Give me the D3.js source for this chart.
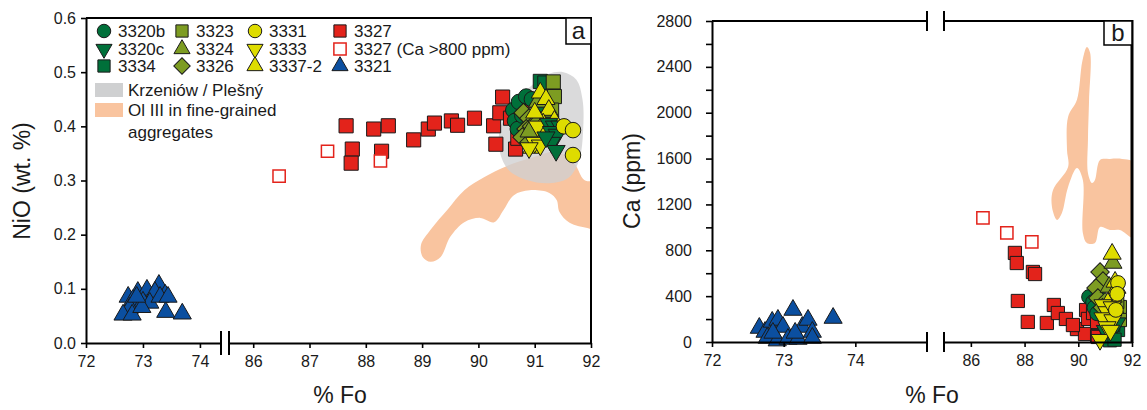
<!DOCTYPE html>
<html>
<head>
<meta charset="utf-8">
<script src="https://cdnjs.cloudflare.com/ajax/libs/d3/7.8.5/d3.min.js"></script>
<style>
  body { margin: 0; background: #fff; }
  svg { font-family: "Liberation Sans", Arial, sans-serif; }
  .tick text { font-size: 16px; fill: #1a1a1a; }
  .tick line { stroke: #000; stroke-width: 1.6; }
  .legend text { font-size: 17px; fill: #1a1a1a; }
  .title { font-size: 23px; fill: #1a1a1a; }
</style>
</head>
<body>
<div id="chart"></div>
<script>
// ---- data: [Fo, NiO wt.%] (panel a) ----
var a3321 = [[72.74,0.085],[72.91,0.094],[73.07,0.098],[73.28,0.107],[73.21,0.094],[73.39,0.089],[72.82,0.079],[73.0,0.076],[73.12,0.074],[72.77,0.065],[72.65,0.052],[72.81,0.052],[72.98,0.066],[73.40,0.057],[73.69,0.054],[72.89,0.085],[73.30,0.085],[73.44,0.085]];
var a3327 = [[87.65,0.401],[87.76,0.358],[87.74,0.332],[88.14,0.395],[88.40,0.401],[88.28,0.354],[88.85,0.375],[89.11,0.395],[89.22,0.406],[89.52,0.410],[89.63,0.402],[89.93,0.415],[90.27,0.401],[90.31,0.367],[90.43,0.454],[90.38,0.425],[90.66,0.358],[90.88,0.447],[91.25,0.436],[91.23,0.421],[91.20,0.402],[90.75,0.393],[90.57,0.415],[90.7,0.378]];
var a3327hi = [[86.46,0.308],[87.32,0.354],[88.26,0.336]];
var a3320b = [[90.62,0.43],[90.65,0.41],[90.72,0.445],[90.85,0.455],[90.95,0.45],[90.7,0.395],[90.78,0.42]];
var a3334 = [[91.1,0.483],[91.18,0.48],[91.2,0.455],[91.25,0.43],[91.3,0.405],[91.15,0.44]];
var a3323 = [[91.33,0.482],[91.35,0.455],[91.3,0.43]];
var a3326 = [[90.8,0.425],[90.9,0.415],[90.85,0.395],[90.95,0.40],[90.78,0.38],[91.0,0.385],[91.08,0.41],[90.9,0.37]];
var a3324 = [[91.05,0.445],[91.3,0.395],[90.9,0.39]];
var a3337 = [[91.1,0.462],[91.2,0.45],[91.25,0.43],[91.15,0.405],[91.35,0.41],[91.0,0.425],[90.95,0.36]];
var a3333 = [[91.0,0.37],[91.1,0.365],[91.2,0.39],[91.05,0.40],[91.4,0.395],[90.9,0.36]];
var a3320c = [[91.25,0.405],[91.35,0.40],[91.45,0.40],[91.3,0.39],[91.4,0.385],[91.3,0.37],[91.38,0.355],[91.2,0.38]];
var a3331 = [[91.52,0.40],[91.68,0.393],[91.68,0.347]];
// outlines of reference fields, [Fo, NiO]
var aKrzeniow = [[91.51,0.500],[91.74,0.486],[91.85,0.449],[91.86,0.393],[91.79,0.338],[91.60,0.305],[91.26,0.295],[90.86,0.301],[90.54,0.319],[90.38,0.353],[90.38,0.393],[90.60,0.439],[90.95,0.476],[91.25,0.497]];
var aOlIII = [[88.98,0.181],[89.15,0.209],[89.45,0.246],[89.75,0.282],[90.10,0.306],[90.51,0.327],[90.95,0.342],[91.39,0.353],[91.70,0.332],[91.88,0.301],[92.1,0.295],[92.1,0.209],[91.95,0.212],[91.62,0.222],[91.44,0.242],[91.39,0.264],[91.26,0.277],[90.91,0.282],[90.63,0.273],[90.45,0.246],[90.28,0.223],[90.03,0.231],[89.75,0.223],[89.50,0.196],[89.33,0.159],[89.15,0.150],[89.01,0.159]];

// ---- data: [Fo, Ca ppm] (panel b) ----
var b3321 = [[72.66,122],[72.74,87],[72.84,175],[72.92,192],[72.99,131],[73.13,279],[73.26,131],[73.34,192],[73.40,87],[73.69,209],[72.77,35],[72.91,12],[73.06,26],[73.20,26],[73.40,35],[72.85,79],[73.16,79]];
var b3327 = [[87.64,777],[87.71,689],[88.31,611],[88.39,593],[87.75,358],[88.12,175],[88.83,166],[89.09,323],[89.24,253],[89.54,201],[89.95,113],[90.29,279],[90.36,201],[90.25,70],[90.70,52],[89.80,148],[90.55,253],[90.70,175],[90.73,44]];
var b3327hi = [[86.45,1082],[87.34,951],[88.27,873]];
var b3320b = [[90.40,393],[90.55,349],[90.6,300],[90.7,250],[90.8,380]];
var b3334 = [[91.07,79],[91.29,44],[91.18,15],[91.48,105],[91.44,279],[91.3,150],[91.2,250],[91.35,20]];
var b3323 = [[91.55,305],[91.55,192],[91.45,350]];
var b3326 = [[90.81,611],[90.92,532],[90.66,471],[90.73,384],[91.0,350],[90.9,300]];
var b3324 = [[91.29,689],[91.15,480],[91.35,300]];
var b3337 = [[91.26,768],[91.37,524],[91.3,393],[91.44,471],[91.1,340]];
var b3333 = [[90.92,323],[91.07,262],[91.26,305],[90.92,209],[91.29,192],[91.07,131],[90.81,20],[91.2,100]];
var b3320c = [[91.44,166],[91.1,150],[91.2,200],[91.0,100]];
var b3331 = [[91.48,515],[91.45,420],[91.4,280]];
var bOlIII = [[90.32,2574],[90.44,2522],[90.40,2100],[90.36,1763],[90.36,1475],[90.51,1387],[90.62,1414],[90.81,1588],[91.18,1597],[91.63,1597],[92.1,1562],[92.1,908],[91.55,977],[91.18,977],[90.81,1003],[90.62,864],[90.32,864],[90.17,951],[90.17,1414],[89.95,1518],[89.62,1353],[89.39,1126],[89.21,1065],[89.02,1178],[89.06,1326],[89.62,1527],[89.58,1675],[89.62,1963],[89.95,2112],[90.15,2450]];

// tick labels
var aFoTicksL = [72, 73, 74];
var aFoTicksR = [86, 87, 88, 89, 90, 91, 92];
var aNiOTicks = [0, 0.1, 0.2, 0.3, 0.4, 0.5, 0.6];
var bFoTicksL = [72, 73, 74];
var bFoTicksR = [86, 88, 90, 92];
var bCaTicks = [0,200,400,600,800,1000,1200,1400,1600,1800,2000,2200,2400,2600,2800];

(function (d3) {
  'use strict';

  var green = '#00703a', olive = '#7d9c22', yellow = '#dedc00',
      red = '#e3231b', blue = '#0b4fa0', peach = '#f9c49f', grey = '#cfd0d1';

  var svg = d3.select('#chart').append('svg')
    .attr('width', 1147).attr('height', 410);

  // panel a scales (x axis broken between 74 and 86)
  var xaL = d3.scaleLinear().domain([72, 74.37]).range([86, 221]);
  var xaR = d3.scaleLinear().domain([85.57, 92]).range([229, 591]);
  var ya = d3.scaleLinear().domain([0, 0.6]).range([343, 18]);
  // panel b scales
  var xbL = d3.scaleLinear().domain([72, 75]).range([712, 927]);
  var xbR = d3.scaleLinear().domain([85, 92]).range([944, 1132]);
  var yb = d3.scaleLinear().domain([0, 2800]).range([342, 21]);

  function fxA(v) { return v < 80 ? xaL(v) : xaR(v); }
  function fxB(v) { return v < 80 ? xbL(v) : xbR(v); }

  var shapes = {
    circle: { type: d3.symbolCircle, rot: 0, k: 0.95 },
    square: { type: d3.symbolSquare, rot: 0, k: 1 },
    tri: { type: d3.symbolTriangle, rot: 0, k: 0.75 },
    itri: { type: d3.symbolTriangle, rot: 180, k: 0.75 },
    diamond: { type: d3.symbolSquare, rot: 45, k: 0.9 }
  };

  function points(g, data, fx, fy, shape, fill, size, stroke) {
    var s = shapes[shape];
    g.append('g').selectAll('path')
      .data(data)
      .enter()
      .append('path')
      .attr('d', d3.symbol().type(s.type).size(size * s.k))
      .attr('transform', function (d) {
        return 'translate(' + fx(d[0]) + ',' + fy(d[1]) + ') rotate(' + s.rot + ')';
      })
      .attr('fill', fill)
      .attr('stroke', stroke || '#1a1a1a')
      .attr('stroke-width', stroke ? 1.5 : 1);
  }

  var region = d3.line().curve(d3.curveCatmullRomClosed.alpha(0.5));
  var fmt = d3.format('d');

  // clip paths
  var defs = svg.append('defs');
  defs.append('clipPath').attr('id', 'clipA').append('rect')
    .attr('x', 86).attr('y', 18).attr('width', 505).attr('height', 325);
  defs.append('clipPath').attr('id', 'clipB').append('rect')
    .attr('x', 712).attr('y', 21).attr('width', 420).attr('height', 321);

  // ================= panel a =================
  var ga = svg.append('g');
  var fieldsA = ga.append('g').attr('clip-path', 'url(#clipA)');
  fieldsA.append('path')
    .attr('d', region(aOlIII.map(function (d) { return [fxA(d[0]), ya(d[1])]; })))
    .attr('fill', peach);
  fieldsA.append('path')
    .attr('d', region(aKrzeniow.map(function (d) { return [fxA(d[0]), ya(d[1])]; })))
    .attr('fill', grey).attr('opacity', 0.78);

  points(ga, a3321, fxA, ya, 'tri', blue, 190);
  points(ga, a3327, fxA, ya, 'square', red, 200);
  points(ga, a3327hi, fxA, ya, 'square', '#fff', 150, red);
  points(ga, a3320b, fxA, ya, 'circle', green, 200);
  points(ga, a3334, fxA, ya, 'square', green, 200);
  points(ga, a3323, fxA, ya, 'square', olive, 200);
  points(ga, a3326, fxA, ya, 'diamond', olive, 200);
  points(ga, a3324, fxA, ya, 'tri', olive, 190);
  points(ga, a3337, fxA, ya, 'tri', yellow, 190);
  points(ga, a3333, fxA, ya, 'itri', yellow, 190);
  points(ga, a3320c, fxA, ya, 'itri', green, 190);
  points(ga, a3331, fxA, ya, 'circle', yellow, 200);

  // axes a
  ga.append('g').attr('transform', 'translate(0,343)')
    .call(d3.axisBottom(xaL).tickValues(aFoTicksL).tickFormat(fmt).tickSize(5).tickSizeOuter(0).tickPadding(8));
  ga.append('g').attr('transform', 'translate(0,343)')
    .call(d3.axisBottom(xaR).tickValues(aFoTicksR).tickFormat(fmt).tickSize(5).tickSizeOuter(0).tickPadding(8));
  ga.append('g').attr('transform', 'translate(86,0)')
    .call(d3.axisLeft(ya).tickValues(aNiOTicks).tickFormat(d3.format('.1f')).tickSize(5).tickSizeOuter(0).tickPadding(5));
  ga.selectAll('.domain').attr('stroke', '#000').attr('stroke-width', 2);

  // frame and break marks
  ga.append('path').attr('d', 'M86,18H591V343').attr('fill', 'none').attr('stroke', '#000').attr('stroke-width', 2);
  ga.append('path').attr('d', 'M221,331V355M229,331V355').attr('stroke', '#000').attr('stroke-width', 2);

  ga.append('rect').attr('x', 566).attr('y', 18).attr('width', 25).attr('height', 26)
    .attr('fill', '#fff').attr('stroke', '#000').attr('stroke-width', 1.5);
  ga.append('text').attr('x', 578.5).attr('y', 39).attr('text-anchor', 'middle')
    .attr('class', 'title').style('font-size', '24px').text('a');

  ga.append('text').attr('class', 'title')
    .attr('transform', 'translate(30,181) rotate(-90)')
    .attr('text-anchor', 'middle').text('NiO (wt. %)');
  ga.append('text').attr('class', 'title')
    .attr('x', 340).attr('y', 403).attr('text-anchor', 'middle').text('% Fo');

  // legend
  var legendItems = [
    { x: 104, y: 31, shape: 'circle', fill: green, label: '3320b' },
    { x: 104, y: 49, shape: 'itri', fill: green, label: '3320c' },
    { x: 104, y: 66, shape: 'square', fill: green, label: '3334' },
    { x: 182, y: 31, shape: 'square', fill: olive, label: '3323' },
    { x: 182, y: 49, shape: 'tri', fill: olive, label: '3324' },
    { x: 182, y: 66, shape: 'diamond', fill: olive, label: '3326' },
    { x: 255, y: 31, shape: 'circle', fill: yellow, label: '3331' },
    { x: 255, y: 49, shape: 'itri', fill: yellow, label: '3333' },
    { x: 255, y: 66, shape: 'tri', fill: yellow, label: '3337-2' },
    { x: 340, y: 31, shape: 'square', fill: red, label: '3327' },
    { x: 340, y: 49, shape: 'square', fill: '#fff', stroke: red, label: '3327 (Ca >800 ppm)' },
    { x: 340, y: 66, shape: 'tri', fill: blue, label: '3321' }
  ];
  var legend = ga.append('g').attr('class', 'legend');
  legendItems.forEach(function (it) {
    var s = shapes[it.shape];
    legend.append('path')
      .attr('d', d3.symbol().type(s.type).size(150 * s.k)())
      .attr('transform', 'translate(' + it.x + ',' + it.y + ') rotate(' + s.rot + ')')
      .attr('fill', it.fill)
      .attr('stroke', it.stroke || '#1a1a1a')
      .attr('stroke-width', it.stroke ? 1.5 : 1);
    legend.append('text').attr('x', it.x + 14).attr('y', it.y + 6).text(it.label);
  });
  legend.append('rect').attr('x', 95).attr('y', 83).attr('width', 28).attr('height', 14).attr('fill', grey);
  legend.append('rect').attr('x', 95).attr('y', 103).attr('width', 28).attr('height', 14).attr('fill', peach);
  legend.append('text').attr('x', 128).attr('y', 96).text('Krzeniów / Plešný');
  legend.append('text').attr('x', 128).attr('y', 116).text('Ol III in fine-grained');
  legend.append('text').attr('x', 128).attr('y', 138).text('aggregates');

  // ================= panel b =================
  var gb = svg.append('g');
  gb.append('g').attr('clip-path', 'url(#clipB)').append('path')
    .attr('d', region(bOlIII.map(function (d) { return [fxB(d[0]), yb(d[1])]; })))
    .attr('fill', peach);

  points(gb, b3321, fxB, yb, 'tri', blue, 190);
  points(gb, b3327, fxB, yb, 'square', red, 175);
  points(gb, b3327hi, fxB, yb, 'square', '#fff', 150, red);
  points(gb, b3320b, fxB, yb, 'circle', green, 180);
  points(gb, b3334, fxB, yb, 'square', green, 175);
  points(gb, b3323, fxB, yb, 'square', olive, 175);
  points(gb, b3326, fxB, yb, 'diamond', olive, 190);
  points(gb, b3324, fxB, yb, 'tri', olive, 190);
  points(gb, b3337, fxB, yb, 'tri', yellow, 190);
  points(gb, b3320c, fxB, yb, 'itri', green, 180);
  points(gb, b3333, fxB, yb, 'itri', yellow, 190);
  points(gb, b3331, fxB, yb, 'circle', yellow, 180);

  gb.append('g').attr('transform', 'translate(0,342)')
    .call(d3.axisBottom(xbL).tickValues(bFoTicksL).tickFormat(fmt).tickSize(5).tickSizeOuter(0).tickPadding(8));
  gb.append('g').attr('transform', 'translate(0,342)')
    .call(d3.axisBottom(xbR).tickValues(bFoTicksR).tickFormat(fmt).tickSize(5).tickSizeOuter(0).tickPadding(8));
  gb.append('g').attr('transform', 'translate(712,0)')
    .call(d3.axisLeft(yb).tickValues(bCaTicks)
      .tickFormat(function (d) { return d % 400 === 0 ? d : ''; })
      .tickSize(6).tickSizeOuter(0).tickPadding(14));
  gb.selectAll('.domain').attr('stroke', '#000').attr('stroke-width', 2);

  gb.append('path').attr('d', 'M712,21H927M944,21H1132').attr('fill', 'none').attr('stroke', '#000').attr('stroke-width', 2);
  gb.append('path').attr('d', 'M1132,20V343').attr('stroke', '#000').attr('stroke-width', 3);
  gb.append('path').attr('d', 'M927,11V31M944,11V31M927,332V352M944,332V352').attr('stroke', '#000').attr('stroke-width', 2);

  gb.append('rect').attr('x', 1104).attr('y', 21).attr('width', 28).attr('height', 24)
    .attr('fill', '#fff').attr('stroke', '#000').attr('stroke-width', 1.5);
  gb.append('text').attr('x', 1118).attr('y', 41).attr('text-anchor', 'middle')
    .attr('class', 'title').style('font-size', '24px').text('b');

  gb.append('text').attr('class', 'title')
    .attr('transform', 'translate(640,181) rotate(-90)')
    .attr('text-anchor', 'middle').text('Ca (ppm)');
  gb.append('text').attr('class', 'title')
    .attr('x', 932).attr('y', 403).attr('text-anchor', 'middle').text('% Fo');

})(window.d3);
</script>
</body>
</html>
